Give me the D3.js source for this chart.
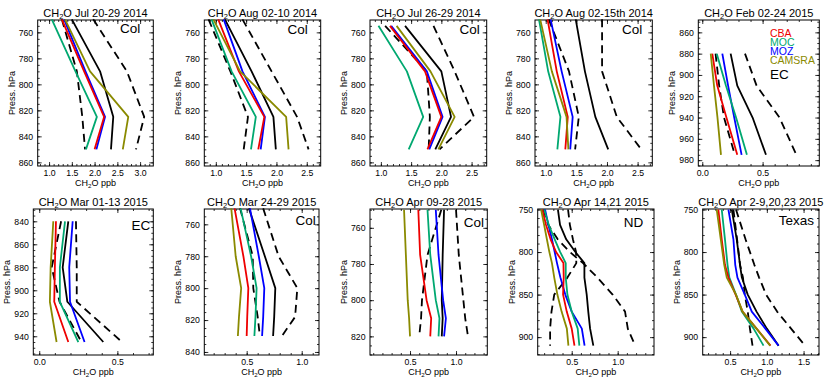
<!DOCTYPE html>
<html>
<head>
<meta charset="utf-8">
<script src="https://cdn.jsdelivr.net/npm/d3@7"></script>
<style>
body { margin: 0; background: #fff; }
svg { display: block; font-family: "Liberation Sans", Arial, Helvetica, sans-serif; }
</style>
</head>
<body>
<svg id="chart" width="831" height="384"></svg>
<script>
// ---- data ----
var titles = ['Jul 20-29 2014', 'Aug 02-10 2014', 'Jul 26-29 2014', 'Aug 02-15th 2014', 'Feb 02-24 2015',
	'Mar 01-13 2015', 'Mar 24-29 2015', 'Apr 09-28 2015', 'Apr 14,21 2015', 'Apr 2-9,20,23 2015'];
var regions = ['Col', 'Col', 'Col', 'Col', 'EC', 'EC', 'Col', 'Col', 'ND', 'Texas'];
var legendNames = ['CBA', 'MOC', 'MOZ', 'CAMSRA'];

var xDomains = [[0.75, 3.29], [0.81, 2.73], [0.82, 2.75], [0.825, 2.74], [-0.033, 0.97],
	[-0.038, 0.73], [0.115, 1.157], [0.065, 1.34], [0.13, 1.395], [0.127, 1.71]];
var yDomains = [[750.5, 862.8], [750.5, 862.8], [750.5, 862.8], [750.5, 862.8], [848.4, 985.5],
	[829.3, 956.3], [750.4, 841.9], [749.6, 830.3], [749.4, 921], [749.4, 921]];
var xTicks = [[1.0, 1.5, 2.0, 2.5, 3.0], [1.0, 1.5, 2.0, 2.5], [1.0, 1.5, 2.0, 2.5], [1.0, 1.5, 2.0, 2.5], [0.0, 0.5],
	[0.0, 0.5], [0.5, 1.0], [0.5, 1.0], [0.5, 1.0], [0.5, 1.0, 1.5]];
var yTicks = [[760, 780, 800, 820, 840, 860], [760, 780, 800, 820, 840, 860], [760, 780, 800, 820, 840, 860],
	[760, 780, 800, 820, 840, 860], [860, 880, 900, 920, 940, 960, 980], [840, 860, 880, 900, 920, 940],
	[760, 780, 800, 820, 840], [760, 780, 800, 820], [750, 800, 850, 900], [750, 800, 850, 900]];

var levels = [
	[750, 790, 825, 850], [750, 790, 825, 850], [755, 790, 825, 850], [750, 790, 825, 850],
	[880, 910, 940, 975], [840, 880, 910, 945], [750, 780, 800, 818, 830], [750, 775, 800, 810, 820],
	[750, 768, 785, 800, 813, 830, 850, 870, 890, 910], [750, 785, 815, 830, 850, 870, 890, 910]
];
var cba = [
	[1.28, 1.77, 2.21, 2.00], [1.04, 1.38, 1.80, 1.70], [1.15, 1.73, 2.00, 1.77], [1.03, 1.18, 1.36, 1.32],
	[0.083, 0.124, 0.20, 0.29], [0.107, 0.10, 0.096, 0.186], [0.39, 0.47, 0.515, 0.505, 0.50],
	[0.59, 0.61, 0.68, 0.73, 0.72], [0.18, 0.22, 0.27, 0.33, 0.41, 0.413, 0.406, 0.446, 0.50, 0.53],
	[0.34, 0.386, 0.43, 0.477, 0.575, 0.67, 0.86, 1.05]
];
var moc = [
	[1.06, 1.58, 2.05, 1.81], [0.93, 1.26, 1.66, 1.58], [0.96, 1.43, 1.70, 1.46], [0.89, 1.04, 1.24, 1.19],
	[0.12, 0.196, 0.28, 0.37], [0.165, 0.132, 0.132, 0.25], [0.445, 0.54, 0.59, 0.58, 0.57],
	[0.69, 0.72, 0.78, 0.82, 0.81], [0.20, 0.25, 0.315, 0.375, 0.435, 0.435, 0.453, 0.50, 0.565, 0.583],
	[0.386, 0.43, 0.465, 0.49, 0.58, 0.66, 0.82, 0.955]
];
var moz = [
	[1.33, 1.80, 2.23, 2.04], [1.13, 1.44, 1.81, 1.74], [1.17, 1.76, 2.02, 1.80], [1.08, 1.26, 1.44, 1.40],
	[0.166, 0.214, 0.265, 0.326], [0.214, 0.192, 0.197, 0.29], [0.53, 0.61, 0.66, 0.65, 0.64],
	[0.78, 0.81, 0.86, 0.89, 0.87], [0.21, 0.246, 0.285, 0.315, 0.34, 0.377, 0.43, 0.50, 0.61, 0.64],
	[0.477, 0.545, 0.57, 0.60, 0.70, 0.795, 0.98, 1.16]
];
var camsra = [
	[1.35, 1.90, 2.74, 2.62], [0.96, 1.40, 2.16, 2.20], [1.26, 1.82, 2.22, 1.95], [0.91, 1.10, 1.34, 1.37],
	[0.07, 0.097, 0.126, 0.155], [0.09, 0.073, 0.068, 0.111], [0.36, 0.40, 0.45, 0.43, 0.42],
	[0.435, 0.455, 0.475, 0.49, 0.50], [0.167, 0.20, 0.23, 0.257, 0.285, 0.31, 0.344, 0.39, 0.447, 0.464],
	[0.318, 0.373, 0.42, 0.455, 0.58, 0.67, 0.86, 1.045]
];
var ec = [
	[1.50, 2.12, 2.41, 2.36], [1.15, 1.59, 1.95, 1.99], [1.40, 2.00, 2.16, 1.90], [1.49, 1.64, 1.81, 2.02],
	[0.235, 0.29, 0.417, 0.528], [0.186, 0.15, 0.18, 0.41], [0.52, 0.665, 0.76, 0.75, 0.74],
	[0.87, 0.855, 0.845, 0.855, 0.845], [0.35, 0.373, 0.44, 0.54, 0.638, 0.638, 0.663, 0.68, 0.70, 0.735],
	[0.523, 0.59, 0.635, 0.66, 0.74, 0.86, 1.0, 1.16]
];
var ecLow = [
	[1.28, 1.61, 1.73, 1.79], [0.88, 1.24, 1.53, 1.46], [1.07, 1.76, 1.81, 1.79], [1.05, 1.38, 1.54, 1.48],
	[0.11, 0.14, 0.18, 0.27], [0.14, 0.08, 0.13, 0.27], [0.44, 0.555, 0.56, 0.60, 0.62],
	[0.84, 0.69, 0.63, 0.62, 0.60], [0.46, 0.48, 0.513, 0.547, 0.55, 0.453, 0.31, 0.28, 0.265, 0.265],
	[0.545, 0.595, 0.635, 0.675, 0.70, 0.74, 0.77, 0.805]
];
var ecHigh = [
	[1.97, 2.71, 3.09, 2.91], [1.44, 1.92, 2.34, 2.53], [1.87, 2.22, 2.54, 1.97], [1.92, 1.92, 2.16, 2.56],
	[0.354, 0.45, 0.64, 0.78], [0.235, 0.24, 0.24, 0.53], [0.65, 0.79, 0.96, 0.94, 0.82],
	[1.0, 1.03, 1.08, 1.10, 1.13], [0.19, 0.245, 0.348, 0.48, 0.623, 0.78, 0.945, 1.08, 1.11, 1.19],
	[0.58, 0.71, 0.83, 0.895, 0.99, 1.14, 1.33, 1.52]
];

// ---- layout ----
var boxes = [
	[37.7, 20, 153.3, 166], [204.3, 20, 320.7, 166], [370, 20, 486.7, 166], [535, 20, 652.3, 166], [698.3, 20, 819.3, 166],
	[33.3, 209, 153.3, 355], [204.3, 209, 319, 355], [370, 209, 487.3, 355], [537.7, 209, 654, 355], [702.7, 209, 819, 355]
];
// region label: distance of text end from box right, baseline below box top
var regionPos = [[13, 13], [13, 13.5], [7, 13.5], [10, 13.5], [null, 59], [3, 21], [3.3, 16], [3.3, 18], [10.7, 18], [5, 16]];

var colors = {cba: '#ee0000', moc: '#00a870', moz: '#0000ff', camsra: '#8a8a00', ec: '#000000'};
var legendColors = [colors.cba, colors.moc, colors.moz, colors.camsra];

var svg = d3.select('#chart');

function minorValues(dom, step) {
	var v = [];
	var k = Math.ceil(dom[0] / step - 1e-9);
	for (; k * step <= dom[1] + 1e-9; k++) {
		v.push(+(k * step).toFixed(4));
	}
	return v;
}

function chemLabel(sel, rest, size) {
	sel.append('tspan').text('CH');
	sel.append('tspan').text('2').attr('font-size', size * 0.68).attr('dy', size * 0.25);
	sel.append('tspan').text('O' + rest).attr('dy', -size * 0.25);
}

function styleAxis(g, size) {
	g.attr('font-family', null).attr('font-size', size);
	g.select('.domain').remove();
	g.selectAll('line').attr('stroke', '#000').attr('stroke-width', 0.8);
}

titles.forEach(function (title, i) {
	var b = boxes[i];
	var x = d3.scaleLinear().domain(xDomains[i]).range([b[0], b[2]]);
	var y = d3.scaleLinear().domain(yDomains[i]).range([b[1], b[3]]);
	var g = svg.append('g').attr('class', 'panel');

	var yStep = yTicks[i][1] - yTicks[i][0];
	var xMinor = minorValues(xDomains[i], 0.1);
	var yMinor = minorValues(yDomains[i], yStep >= 50 ? 10 : 5);

	// minor ticks on four sides
	[[d3.axisBottom(x), b[3], 'x'], [d3.axisTop(x), b[1], 'x'], [d3.axisLeft(y), b[0], 'y'], [d3.axisRight(y), b[2], 'y']]
		.forEach(function (a) {
			var ax = a[0].tickValues(a[2] === 'x' ? xMinor : yMinor).tickFormat('').tickSizeInner(-2).tickSizeOuter(0);
			var t = a[2] === 'x' ? 'translate(0,' + a[1] + ')' : 'translate(' + a[1] + ',0)';
			g.append('g').attr('transform', t).call(ax).call(styleAxis, 8.5);
		});

	// major ticks with labels
	g.append('g').attr('transform', 'translate(0,' + b[3] + ')')
		.call(d3.axisBottom(x).tickValues(xTicks[i]).tickFormat(d3.format('.1f')).tickSizeInner(-4).tickSizeOuter(0).tickPadding(4))
		.call(styleAxis, 8.7);
	g.append('g').attr('transform', 'translate(0,' + b[1] + ')')
		.call(d3.axisTop(x).tickValues(xTicks[i]).tickFormat('').tickSizeInner(-4).tickSizeOuter(0))
		.call(styleAxis, 8.7);
	g.append('g').attr('transform', 'translate(' + b[0] + ',0)')
		.call(d3.axisLeft(y).tickValues(yTicks[i]).tickFormat(d3.format('d')).tickSizeInner(-4).tickSizeOuter(0).tickPadding(4.5))
		.call(styleAxis, 8.7);
	g.append('g').attr('transform', 'translate(' + b[2] + ',0)')
		.call(d3.axisRight(y).tickValues(yTicks[i]).tickFormat('').tickSizeInner(-4).tickSizeOuter(0))
		.call(styleAxis, 8.7);

	g.append('rect')
		.attr('x', b[0]).attr('y', b[1])
		.attr('width', b[2] - b[0]).attr('height', b[3] - b[1])
		.attr('fill', 'none').attr('stroke', '#000').attr('stroke-width', 1);

	// profiles
	var line = d3.line()
		.x(function (d) { return x(d[0]); })
		.y(function (d) { return y(d[1]); });
	var series = [
		{vals: ecLow[i], color: colors.ec, dash: '8,5'},
		{vals: ecHigh[i], color: colors.ec, dash: '8,5'},
		{vals: ec[i], color: colors.ec},
		{vals: moz[i], color: colors.moz},
		{vals: moc[i], color: colors.moc},
		{vals: cba[i], color: colors.cba},
		{vals: camsra[i], color: colors.camsra}
	];
	series.forEach(function (s) {
		var pts = levels[i].map(function (p, k) { return [s.vals[k], p]; });
		g.append('path')
			.attr('d', line(pts))
			.attr('fill', 'none')
			.attr('stroke', s.color)
			.attr('stroke-width', 1.8)
			.attr('stroke-linejoin', 'round')
			.attr('stroke-dasharray', s.dash || null);
	});

	// texts
	var cx = (b[0] + b[2]) / 2;
	g.append('text')
		.attr('x', cx).attr('y', b[1] - 3.5)
		.attr('text-anchor', 'middle').attr('font-size', 11)
		.call(chemLabel, ' ' + title, 11);
	g.append('text')
		.attr('x', cx).attr('y', b[3] + 19.7)
		.attr('text-anchor', 'middle').attr('font-size', 9)
		.call(chemLabel, ' ppb', 9);
	g.append('text')
		.attr('transform', 'translate(' + (b[0] - 23) + ',' + ((b[1] + b[3]) / 2) + ') rotate(-90)')
		.attr('text-anchor', 'middle').attr('font-size', 9)
		.text('Press. hPa');

	var rp = regionPos[i];
	if (rp[0] === null) {
		// legend panel
		legendNames.forEach(function (name, k) {
			g.append('text')
				.attr('x', 770).attr('y', b[1] + 16.7 + k * 9.1)
				.attr('font-size', 10.5)
				.attr('fill', legendColors[k])
				.text(name);
		});
		g.append('text')
			.attr('x', 770).attr('y', b[1] + rp[1])
			.attr('font-size', 13.5)
			.text(regions[i]);
	} else {
		g.append('text')
			.attr('x', b[2] - rp[0]).attr('y', b[1] + rp[1])
			.attr('text-anchor', 'end').attr('font-size', 13.5)
			.text(regions[i]);
	}
});
</script>
</body>
</html>
